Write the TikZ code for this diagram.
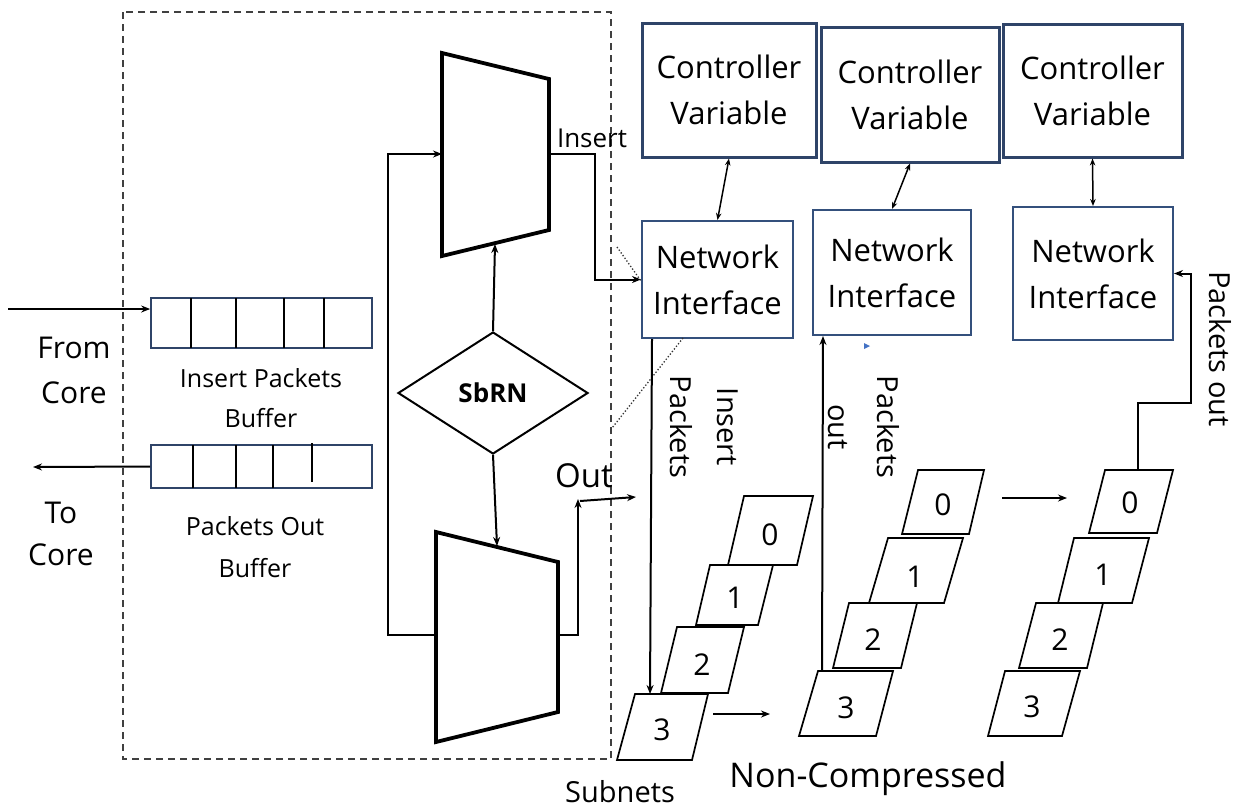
\documentclass[tikz,border=0pt]{standalone}
\usepackage{fontspec}
\setmainfont{Open Sans}
\usetikzlibrary{arrows.meta,shapes.geometric,calc}

\definecolor{navy}{HTML}{2F4468}
\definecolor{niblue}{HTML}{34507C}
\definecolor{markblue}{HTML}{4472C4}

\newcommand\fs[2]{\fontsize{#1}{#2}\selectfont}

% one slanted subnet cell: name, four corners (tl, tr, br, bl), digit position, digit
\newcommand\pcell[7]{%
  \coordinate (#1-tl) at #2;
  \coordinate (#1-tr) at #3;
  \coordinate (#1-br) at #4;
  \coordinate (#1-bl) at #5;
  \draw[cell] (#1-tl) -- (#1-tr) -- (#1-br) -- (#1-bl) -- cycle;
  \node[digit] (#1) at #6 {#7};}

\tikzset{
  ctrlbox/.style={draw=navy, line width=3pt, align=center, inner sep=0pt, font=\fs{31}{46}},
  nibox/.style={draw=niblue, line width=2pt, align=center, inner sep=0pt, font=\fs{31}{46}},
  buf/.style={draw=navy, line width=1.7pt, inner sep=0pt},
  divider/.style={line width=1.7pt},
  conn/.style={line width=2pt, -{Stealth[length=9pt,width=7pt]}},
  biconn/.style={line width=1.5pt, {Stealth[length=7pt,width=5.5pt]}-{Stealth[length=7pt,width=5.5pt]}},
  mux/.style={line width=3.8pt, line join=miter},
  cell/.style={line width=1.7pt, line join=miter},
  digit/.style={inner sep=0pt, font=\fs{30}{36}},
  lbl/.style={align=center, inner sep=0pt},
  dashframe/.style={draw=black!75, line width=1.6pt, dash pattern=on 7pt off 5pt},
  zoomline/.style={draw=black!80, line width=1.3pt, dotted}
}

\begin{document}
\begin{tikzpicture}[x=1pt,y=-1pt]
\useasboundingbox (0,0) rectangle (1238,807);

% router boundary
\draw[dashframe] (123,12) rectangle (611,759);

% input and output buffers
\node[buf, minimum width=221pt, minimum height=50pt] (ib) at (261.5,323) {};
\foreach \x in {191,236,284,324} \draw[divider] (\x,298) -- (\x,348);
\node[buf, minimum width=221pt, minimum height=43pt] (ob) at (261.5,466.5) {};
\foreach \x in {193,236,273} \draw[divider] (\x,445) -- (\x,488);
\draw[divider] (312,443) -- (312,482);

\coordinate (corein) at (8,309);
\coordinate (coreout) at (33,467);
\draw[conn] (corein) -- (corein -| ib.west);
\draw[conn] (ob.west) -- (coreout);

\node[lbl, font=\fs{30}{45}] (fromcore) at (74,370) {From\\Core};
\node[lbl, font=\fs{30}{42}] (tocore) at (61,534) {To\\Core};
\node[lbl, font=\fs{25}{40}] (iblabel) at (261,398) {Insert Packets\\Buffer};
\node[lbl, font=\fs{25}{42}] (oblabel) at (255,547) {Packets Out\\Buffer};

% multiplexers
\coordinate (m1-tl) at (442,53);
\coordinate (m1-tr) at (549,79);
\coordinate (m1-br) at (549,230);
\coordinate (m1-bl) at (442,256);
\draw[mux] (m1-tl) -- (m1-tr) -- (m1-br) -- (m1-bl) -- cycle;
\coordinate (m2-tl) at (436,532);
\coordinate (m2-tr) at (558,562);
\coordinate (m2-br) at (558,712);
\coordinate (m2-bl) at (436,742);
\draw[mux] (m2-tl) -- (m2-tr) -- (m2-br) -- (m2-bl) -- cycle;

% selector
\node[draw, diamond, line width=2pt, minimum width=190pt, minimum height=122pt,
      inner sep=0pt, font=\bfseries\fs{26}{30}] (sbrn) at (493,393) {SbRN};

\coordinate (m1-in) at (442,154);
\coordinate (m1-out) at (549,154);
\coordinate (m1-sel) at (495,244);
\coordinate (m2-in) at (436,635);
\coordinate (m2-out) at (558,635);
\coordinate (m2-sel) at (497,546);
\draw[conn] (sbrn.north) -- (m1-sel);
\draw[conn] (sbrn.south) -- (m2-sel);
\draw[conn] (m2-in) -- (388,635) -- (388,154) -- (m1-in);

% controller variables and network interfaces
\node[ctrlbox, minimum width=174pt, minimum height=134pt] (cv1) at (729,90) {Controller\\Variable};
\node[ctrlbox, minimum width=178pt, minimum height=135pt] (cv2) at (910,94.5) {Controller\\Variable};
\node[ctrlbox, minimum width=179pt, minimum height=133pt] (cv3) at (1092.5,90.5) {Controller\\Variable};
\node[nibox, minimum width=151pt, minimum height=117pt] (ni1) at (717.5,279.5) {Network\\Interface};
\node[nibox, minimum width=158pt, minimum height=125pt] (ni2) at (892,272.5) {Network\\Interface};
\node[nibox, minimum width=160pt, minimum height=133pt] (ni3) at (1093,273.5) {Network\\Interface};
\draw[biconn] (cv1.south) -- (ni1.north);
\draw[biconn] (cv2.south) -- (ni2.north);
\draw[biconn] (cv3.south) -- (ni3.north);

% multiplexer outputs
\draw[conn] (m1-out) -- (595,154) -- (595,279.5) -- (ni1.west);
\node[anchor=base, inner sep=0pt, font=\fs{26}{30}] (insertlbl) at (592,147) {Insert};
\coordinate (outup) at (578,499);
\coordinate (outs) at (580,501);
\coordinate (oute) at (636,497);
\draw[conn] (m2-out) -| (outup);
\draw[conn] (outs) -- (oute);
\node[anchor=base, inner sep=0pt, font=\fs{33}{38}] (outlbl) at (584,487) {Out};

% dotted magnification lines
\draw[zoomline] (617,247) -- (641,281);
\draw[zoomline] (683,338) -- (612,428);

% subnet stacks
\pcell{a0}{(744,496)}{(813,496)}{(797,565)}{(728,565)}{(770,535)}{0}
\pcell{a1}{(710,565)}{(773,565)}{(758,625)}{(696,625)}{(735,598)}{1}
\pcell{a2}{(677,627)}{(744,627)}{(728,693)}{(661,693)}{(702,665)}{2}
\pcell{a3}{(635,694)}{(708,694)}{(692,760)}{(617,760)}{(662,730)}{3}

\pcell{b0}{(918,470)}{(984,470)}{(969,534)}{(902,534)}{(943,505)}{0}
\pcell{b1}{(888,538)}{(963,538)}{(944,603)}{(869,603)}{(915,577)}{1}
\pcell{b2}{(849,603)}{(917,603)}{(901,668)}{(833,668)}{(873,640)}{2}
\pcell{b3}{(818,671)}{(893,671)}{(876,736)}{(799,736)}{(846,708)}{3}

\pcell{c0}{(1105,470)}{(1173,470)}{(1157,533)}{(1089,533)}{(1130,503)}{0}
\pcell{c1}{(1074,538)}{(1149,538)}{(1132,603)}{(1058,603)}{(1103,575)}{1}
\pcell{c2}{(1036,603)}{(1103,603)}{(1087,668)}{(1019,668)}{(1060,640)}{2}
\pcell{c3}{(1005,671)}{(1080,671)}{(1062,736)}{(988,736)}{(1032,707)}{3}

% packet paths
\coordinate (ni1-drop) at ($(ni1.south west)+(11,0)$);
\coordinate (a3-in) at (650,694);
\draw[conn] (ni1-drop) -- (a3-in);
\node[rotate=-90, inner sep=0pt, font=\fs{29}{34}] (ipA) at (728,427) {Insert};
\node[rotate=-90, inner sep=0pt, font=\fs{29}{34}] (ipB) at (681,427) {Packets};

\coordinate (a3-r) at (713,714);
\coordinate (b3-l) at (770,714);
\draw[conn] (a3-r) -- (b3-l);

\coordinate (b3-up) at (822,671);
\coordinate (ni2-in) at ($(ni2.south west)+(11,0)$);
\draw[conn] (b3-up) -- (ni2-in);
\node[rotate=-90, inner sep=0pt, font=\fs{29}{34}] (poA) at (888,427) {Packets};
\node[rotate=-90, inner sep=0pt, font=\fs{29}{34}] (poB) at (838,427) {out};

\coordinate (b0-r) at (1002,498);
\coordinate (c0-l) at (1067,498);
\draw[conn] (b0-r) -- (c0-l);

\coordinate (c0-up) at (1138,470);
\draw[conn] (c0-up) -- (1138,403) -| (1191,273.5) -- (ni3.east);
\node[rotate=-90, inner sep=0pt, font=\fs{29}{34}] (poC) at (1220,349) {Packets out};

% small marker below the second interface
\fill[markblue] (864,343) -- (870,346) -- (864,349) -- cycle;

% captions
\node[anchor=base, inner sep=0pt, font=\fs{29}{34}] (subnets) at (620,802) {Subnets};
\node[anchor=base, inner sep=0pt, font=\fs{34}{40}] (noncomp) at (868,787) {Non-Compressed};

\end{tikzpicture}
\end{document}
